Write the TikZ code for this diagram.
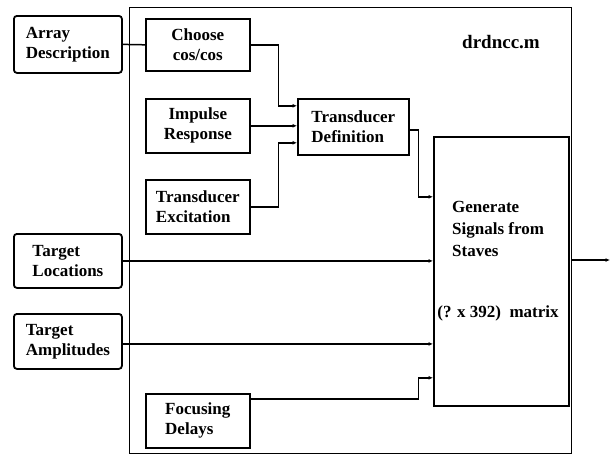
\documentclass[tikz,border=0pt]{standalone}
\usepackage{fontspec}
\setmainfont{Liberation Serif}
\usetikzlibrary{arrows.meta,positioning}

\begin{document}
\begin{tikzpicture}[x=1pt,y=-1pt,>={Latex[length=4.5pt,width=4pt]},
      every node/.style={font=\fontsize{17}{20}\selectfont\bfseries,inner sep=2pt},
      ext/.style={draw,line width=1.8pt,rounded corners=3pt,anchor=north west,align=left},
      block/.style={draw,line width=1.6pt,anchor=north west},
      wire/.style={line width=1.5pt},
      feed/.style={->,line width=1.5pt}]
    \useasboundingbox (0,0) rectangle (610,456);
    \node[draw,line width=1.4pt,anchor=north west,minimum width=442,minimum height=446] (module) at (129,7) {};
    \node[font=\fontsize{19}{22}\selectfont\bfseries] (title) at (501,42) {drdncc.m};
    \node[ext,minimum width=108,minimum height=57] (arr) at (13,15) {Array\\Description};
    \node[ext,minimum width=108,minimum height=54] (tloc) at (13,233) {Target\\Locations};
    \node[ext,minimum width=108,minimum height=55] (tamp) at (13,313) {Target\\Amplitudes};
    \node[block,align=center,minimum width=104,minimum height=52] (choose) at (145,18) {Choose\\cos/cos};
    \node[block,align=center,minimum width=104,minimum height=54] (impulse) at (145,98) {Impulse\\Response};
    \node[block,align=left,minimum width=104,minimum height=54] (excit) at (145,179) {Transducer\\Excitation};
    \node[block,align=left,minimum width=104,minimum height=54] (focus) at (145,393) {Focusing\\Delays};
    \node[block,align=left,minimum width=111,minimum height=56] (tdef) at (297,98) {Transducer\\Definition};
    \node[block,minimum width=135,minimum height=269] (gen) at (433,136) {};
    \node[anchor=north west,align=left,font=\fontsize{17}{22}\selectfont\bfseries] (gentext) at (450,199) {Generate\\Signals from\\Staves};
    \node (size) at (498,313) {(? x 392)\ \ matrix};
    \coordinate (out) at (610,260);
    \draw[wire] (arr.east) -- (choose.west);
    \draw[feed] (choose.east) -- ++(28,0) |- ([yshift=21pt]tdef.west);
    \draw[feed] (impulse.east) -- (tdef.west |- impulse.east);
    \draw[feed] (excit.east) -- ++(28,0) |- ([yshift=-16pt]tdef.west);
    \draw[feed] ([yshift=-3pt]tdef.east) -- ++(9,0) |- ([yshift=74.5pt]gen.west);
    \draw[feed] (tloc.east) -- (gen.west |- tloc.east);
    \draw[feed] ([yshift=-2.5pt]tamp.east) -- ([yshift=-2.5pt]gen.west |- tamp.east);
    \draw[feed] ([yshift=22pt]focus.east) -- ++(168,0) |- ([yshift=-106.5pt]gen.west);
    \draw[feed] (module.east |- out) -- (out);
\end{tikzpicture}
\end{document}
